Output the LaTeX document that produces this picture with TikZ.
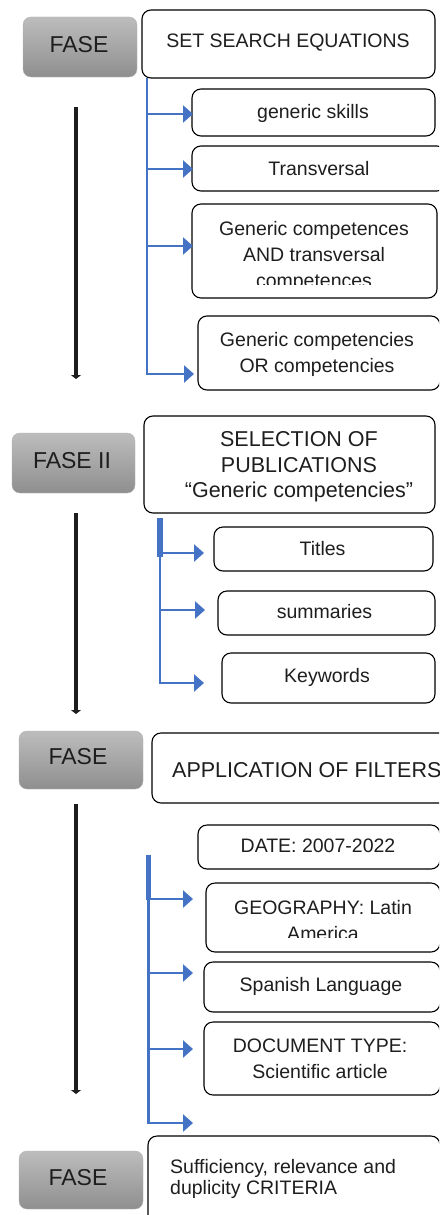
\documentclass[tikz,border=0pt]{standalone}
\usepackage{fontspec}
\setmainfont{Liberation Sans}
\usetikzlibrary{arrows.meta,fit}
\definecolor{bl}{RGB}{68,114,196}
\definecolor{ink}{RGB}{30,30,30}
\tikzset{
  box/.style={draw=black, line width=1.1pt, rounded corners=9pt, fill=white, inner sep=0pt},
  fase/.style={rounded corners=8pt, top color=black!26, bottom color=black!44, draw=black!30, line width=0.4pt, inner sep=0pt},
  fasetxt/.style={font=\fontsize{23}{27}\selectfont, text=ink, inner sep=0pt},
  txt/.style={font=\fontsize{19.5}{26}\selectfont, text=ink, align=center, inner sep=0pt},
  htxt/.style={font=\fontsize{21.5}{25.5}\selectfont, text=ink, align=center, inner sep=0pt},
  barrow/.style={draw=bl, line width=2.5pt, line join=miter, -{Triangle[length=10pt,width=17pt]}},
  thick trunk/.style={draw=bl, line width=5.5pt},
  karrow/.style={draw=ink, line width=3.4pt, -{Triangle[length=4pt,width=10pt]}}
}
\begin{document}
\begin{tikzpicture}[x=1pt,y=-1pt]
\useasboundingbox (0,0) rectangle (439,1215);
\clip (0,0) rectangle (439,1215);

% ---------- Phase I ----------
\node[fase, fit={(23,17) (137,77)}] (f1) {};
\node[fasetxt] (f1t) at (79,45) {FASE};
\node[box, fit={(142,10) (435,78)}] (set) {};
\node[txt] (sett) at (288,43) {SET SEARCH EQUATIONS};

\node[box, fit={(192,89) (435,136)}] (gs) {};
\node[txt] (gst) at (313,113) {generic skills};
\node[box, fit={(192,146) (446,191)}] (tr) {};
\node[txt] (trt) at (319,169) {Transversal};
\node[box, fit={(192,204) (437,298)}] (gc) {};
\begin{scope}
\clip (192,204) rectangle (437,284);
\node[txt] (gct) at (314,256) {Generic competences\\AND transversal\\competences};
\end{scope}
\node[box, fit={(198,316) (440,390)}] (orb) {};
\node[txt] (ort) at (317,354) {Generic competencies\\OR competencies};

\coordinate (t1top) at (147,78);
\coordinate (b11) at (147,114);  \coordinate (e11) at (193,114);
\coordinate (b12) at (147,169);  \coordinate (e12) at (193,169);
\coordinate (b13) at (147,246);  \coordinate (e13) at (193,246);
\coordinate (e14) at (194,374);
\draw[barrow] (t1top) |- (e14);
\draw[barrow] (b11) -- (e11);
\draw[barrow] (b12) -- (e12);
\draw[barrow] (b13) -- (e13);

\coordinate (k1s) at (76,107); \coordinate (k1e) at (76,379);
\draw[karrow] (k1s) -- (k1e);

% ---------- Phase II ----------
\node[fase, fit={(12,433) (135,493)}] (f2) {};
\node[fasetxt] (f2t) at (72,461) {FASE II};
\node[box, fit={(144,416) (435,513)}] (sel) {};
\begin{scope}
\clip (144,416) rectangle (435,502);
\node[htxt] (selt) at (299,467) {SELECTION OF\\PUBLICATIONS\\“Generic competencies”};
\end{scope}

\node[box, fit={(214,527) (433,571)}] (ti) {};
\node[txt] (tit) at (322.5,549) {Titles};
\node[box, fit={(218,591) (435,635)}] (su) {};
\node[txt] (sut) at (324.5,612) {summaries};
\node[box, fit={(222,653) (435,703)}] (kw) {};
\node[txt] (kwt) at (327,677) {Keywords};

\coordinate (t2top) at (160,518);
\coordinate (t2mid) at (160,557);
\coordinate (b21) at (160,553);  \coordinate (e21) at (204,553);
\coordinate (b22) at (160,610);  \coordinate (e22) at (205,610);
\coordinate (e23) at (204,683);
\draw[thick trunk] (t2top) -- (t2mid);
\draw[barrow] (t2top) |- (e23);
\draw[barrow] (b21) -- (e21);
\draw[barrow] (b22) -- (e22);

\coordinate (k2s) at (76,513); \coordinate (k2e) at (76,714);
\draw[karrow] (k2s) -- (k2e);

% ---------- Phase III ----------
\node[fase, fit={(19,731) (143,789)}] (f3) {};
\node[fasetxt] (f3t) at (78,757) {FASE};
\node[box, fit={(152,733) (455,803)}] (app) {};
\node[htxt, anchor=west] (appt) at (172,770) {APPLICATION OF FILTERS};

\node[box, fit={(198,825) (440,869)}] (da) {};
\node[txt] (dat) at (318,846) {DATE: 2007-2022};
\node[box, fit={(206,883) (440,952)}] (geo) {};
\begin{scope}
\clip (206,883) rectangle (440,937);
\node[txt] (geot) at (323,921) {GEOGRAPHY: Latin\\America};
\end{scope}
\node[box, fit={(204,962) (440,1012)}] (sp) {};
\node[txt] (spt) at (321,986) {Spanish Language};
\node[box, fit={(204,1022) (440,1095)}] (dt) {};
\node[txt] (dtt) at (320,1059) {DOCUMENT TYPE:\\Scientific article};

\coordinate (t3top) at (148.5,855);
\coordinate (t3mid) at (148.5,900);
\coordinate (b31) at (148.5,899);  \coordinate (e31) at (193,899);
\coordinate (b32) at (148.5,973);  \coordinate (e32) at (193,973);
\coordinate (b33) at (148.5,1049); \coordinate (e33) at (193,1049);
\coordinate (e34) at (193,1123);
\draw[thick trunk] (t3top) -- (t3mid);
\draw[barrow] (t3top) |- (e34);
\draw[barrow] (b31) -- (e31);
\draw[barrow] (b32) -- (e32);
\draw[barrow] (b33) -- (e33);

\coordinate (k3s) at (76,804); \coordinate (k3e) at (76,1094);
\draw[karrow] (k3s) -- (k3e);

% ---------- Phase IV ----------
\node[box, fit={(148,1136) (440,1230)}] (crit) {};
\node[txt, align=left, anchor=west, font=\fontsize{19.5}{21.7}\selectfont] (critt) at (170,1179) {Sufficiency, relevance and\\duplicity CRITERIA};
\node[fase, fit={(19,1151) (143,1209)}] (f4) {};
\node[fasetxt] (f4t) at (78,1178) {FASE};
\end{tikzpicture}
\end{document}
